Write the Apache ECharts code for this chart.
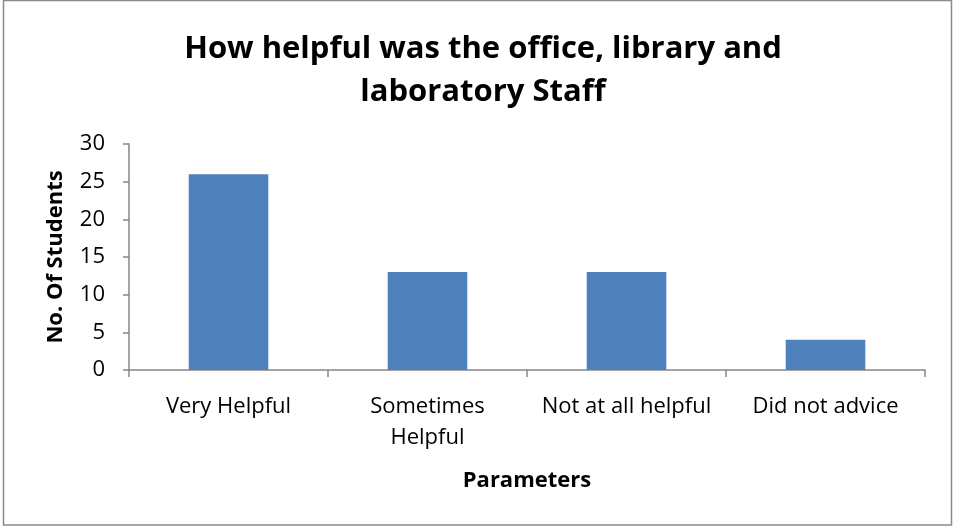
<!DOCTYPE html>
<html>
<head>
<meta charset="utf-8">
<script src="https://cdn.jsdelivr.net/npm/echarts@6/dist/echarts.min.js"></script>
<style>
  html, body { margin: 0; padding: 0; background: #fff; }
  #chart { width: 953px; height: 527px; }
</style>
</head>
<body>
<div id="chart"></div>
<script>
// chart data
const categories = ['Very Helpful', 'Sometimes\nHelpful', 'Not at all helpful', 'Did not advice'];
const students = [26, 13, 13, 4];
const yTicks = [0, 5, 10, 15, 20, 25, 30];

const fontFamily = '"Open Sans", Lato, sans-serif';
const axisColor = '#868686';

const chart = echarts.init(document.getElementById('chart'));
chart.setOption({
  animation: false,
  backgroundColor: '#fff',
  title: {
    text: 'How helpful was the office, library and\nlaboratory Staff',
    left: 478,
    textAlign: 'center',
    top: 23,
    textStyle: {
      fontFamily: fontFamily,
      fontWeight: 'bold',
      fontSize: 31,
      lineHeight: 43,
      color: '#000'
    }
  },
  graphic: [{
    type: 'rect',
    shape: { x: 3.5, y: 0.5, width: 948, height: 524.5 },
    style: { fill: 'none', stroke: '#8a8a8a', lineWidth: 1.5 },
    silent: true
  }],
  grid: { left: 129, right: 28, top: 144, bottom: 157 },
  xAxis: {
    type: 'category',
    data: categories,
    name: 'Parameters',
    nameLocation: 'middle',
    nameGap: 100,
    nameTextStyle: { fontFamily: fontFamily, fontWeight: 'bold', fontSize: 22, color: '#000' },
    axisLine: { lineStyle: { color: axisColor, width: 1.5 } },
    axisTick: { show: true, length: 7, lineStyle: { color: axisColor, width: 1.5 } },
    axisLabel: {
      interval: 0,
      margin: 21,
      fontFamily: fontFamily,
      fontSize: 22,
      lineHeight: 31,
      color: '#000'
    }
  },
  yAxis: {
    type: 'value',
    min: yTicks[0],
    max: yTicks[yTicks.length - 1],
    interval: 5,
    name: 'No. Of Students',
    nameLocation: 'middle',
    nameGap: 62,
    nameTextStyle: { fontFamily: fontFamily, fontWeight: 'bold', fontSize: 22, color: '#000' },
    splitLine: { show: false },
    axisLine: { show: true, lineStyle: { color: axisColor, width: 1.5 } },
    axisTick: { show: true, length: 6, lineStyle: { color: axisColor, width: 1.5 } },
    axisLabel: {
      margin: 24,
      fontFamily: fontFamily,
      fontSize: 22,
      color: '#000'
    }
  },
  series: [{
    type: 'bar',
    data: students,
    barWidth: '40%',
    itemStyle: { color: '#4F81BD' }
  }]
});
</script>
</body>
</html>
